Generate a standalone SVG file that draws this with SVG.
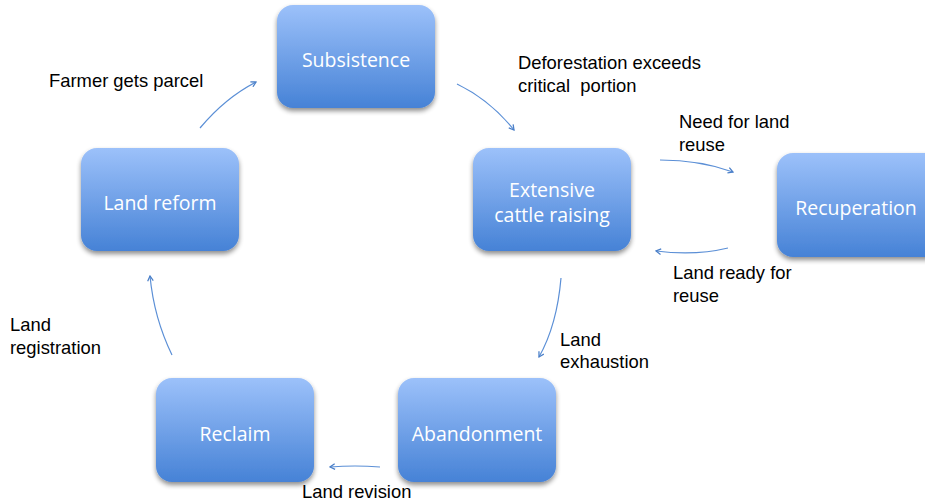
<svg xmlns="http://www.w3.org/2000/svg" width="925" height="502" viewBox="0 0 925 502">
<defs>
<linearGradient id="g" x1="0" y1="0" x2="0" y2="1">
<stop offset="0" stop-color="#9cc1fa"/>
<stop offset="1" stop-color="#4682d6"/>
</linearGradient>
<filter id="sh" x="-20%" y="-20%" width="140%" height="150%">
<feGaussianBlur in="SourceAlpha" stdDeviation="2.5"/>
<feOffset dy="3" result="b"/>
<feComponentTransfer><feFuncA type="linear" slope="0.45"/></feComponentTransfer>
<feMerge><feMergeNode/><feMergeNode in="SourceGraphic"/></feMerge>
</filter>
<marker id="ah" viewBox="0 0 10 10" refX="8" refY="5" markerWidth="7" markerHeight="7" orient="auto" markerUnits="userSpaceOnUse">
<path d="M1,1 L8,5 L1,9" fill="none" stroke="#4a7fc8" stroke-width="1.8"/>
</marker>
</defs>
<style>
.box{fill:url(#g);filter:url(#sh)}
.nt{font-family:"Open Sans","Liberation Sans",sans-serif;font-size:19.5px;fill:#fff;text-anchor:middle}
.lb{font-family:"Liberation Sans",Arial,sans-serif;font-size:18.4px;fill:#000}
.c{fill:none;stroke:#5b8fd6;stroke-width:1.2;marker-end:url(#ah)}
</style>
<rect width="925" height="502" fill="#fff"/>
<g id="subsistence"><rect class="box" x="277" y="5" width="158" height="103" rx="16"/><text class="nt" x="356" y="67">Subsistence</text></g>
<g id="extensive"><rect class="box" x="473" y="148" width="158" height="103" rx="16"/><text class="nt" x="552" y="197">Extensive</text><text class="nt" x="552" y="222">cattle raising</text></g>
<g id="recuperation"><rect class="box" x="777" y="153" width="170" height="104" rx="16"/><text class="nt" x="856" y="215">Recuperation</text></g>
<g id="landreform"><rect class="box" x="81" y="148" width="158" height="103" rx="16"/><text class="nt" x="160" y="210">Land reform</text></g>
<g id="reclaim"><rect class="box" x="156" y="378" width="158" height="104" rx="16"/><text class="nt" x="235" y="441">Reclaim</text></g>
<g id="abandonment"><rect class="box" x="398" y="378" width="158" height="104" rx="16"/><text class="nt" x="477" y="441">Abandonment</text></g>
<g id="connectors">
<path class="c" d="M200,128 Q225,98 256,82"/>
<path class="c" d="M457,84 Q490,100 514,130"/>
<path class="c" d="M660,160 Q700,160 733,172"/>
<path class="c" d="M728,248 Q695,256 656,251"/>
<path class="c" d="M561,278 Q557,325 539,357"/>
<path class="c" d="M380,467 Q355,465 330,467"/>
<path class="c" d="M172,355 Q154,318 150,276"/>
</g>
<g id="labels">
<text class="lb" x="49" y="87">Farmer gets parcel</text>
<text class="lb" x="518" y="69">Deforestation exceeds</text>
<text class="lb" x="518" y="92" xml:space="preserve">critical  portion</text>
<text class="lb" x="679" y="128">Need for land</text>
<text class="lb" x="679" y="151">reuse</text>
<text class="lb" x="673" y="279">Land ready for</text>
<text class="lb" x="673" y="302">reuse</text>
<text class="lb" x="560" y="346">Land</text>
<text class="lb" x="560" y="368">exhaustion</text>
<text class="lb" x="10" y="331">Land</text>
<text class="lb" x="10" y="354">registration</text>
<text class="lb" x="302" y="498">Land revision</text>
</g>
</svg>
